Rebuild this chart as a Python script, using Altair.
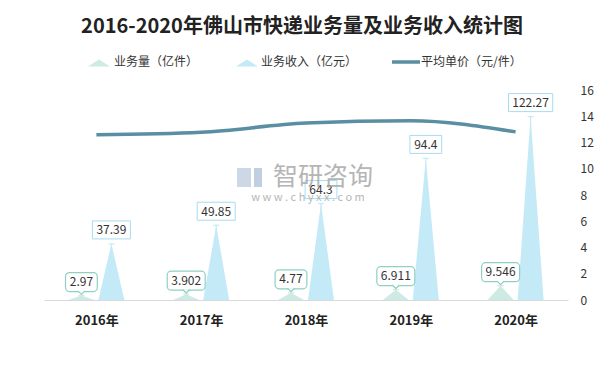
import altair as alt
import pandas as pd

# ---------------- data ----------------
title_text = "2016-2020年佛山市快递业务量及业务收入统计图"
years = ["2016年", "2017年", "2018年", "2019年", "2020年"]
volume = [2.97, 3.902, 4.77, 6.911, 9.546]          # 业务量（亿件）
revenue = [37.39, 49.85, 64.3, 94.4, 122.27]        # 业务收入（亿元）
price = [12.59, 12.78, 13.48, 13.66, 12.81]         # 平均单价（元/件）
vol_labels = ["2.97", "3.902", "4.77", "6.911", "9.546"]
rev_labels = ["37.39", "49.85", "64.3", "94.4", "122.27"]
legend_labels = ["业务量（亿件）", "业务收入（亿元）", "平均单价（元/件）"]
right_ticks = [0, 2, 4, 6, 8, 10, 12, 14, 16]
watermark = ["智研咨询", "w w w . c h y x x . c o m"]

# ---------------- style ----------------
W, H = 524, 210
PX = W / 5.0                 # pixels per category
FONT = "Noto Sans CJK SC"
VOL_FILL, REV_FILL = "#cdeae4", "#c4eaf8"
VOL_STEM, REV_STEM = "#5db8a6", "#93d5ec"
VOL_BOX, REV_BOX = "#8fd0c3", "#a8dcee"
LINE_C = "#5a8ea2"
SHIFT = {"vol": -15 / PX, "rev": 15 / PX}
HW = 13 / PX
CAP = 3 / PX

rows = []
for i in range(len(years)):
    rows.append(dict(idx=i, series="vol", value=volume[i], label=vol_labels[i]))
    rows.append(dict(idx=i, series="rev", value=revenue[i], label=rev_labels[i]))
base_df = pd.DataFrame(rows)
tri_df = pd.concat([base_df.assign(k=k) for k in (-1, 0, 1)], ignore_index=True)
line_df = pd.DataFrame({"idx": range(len(years)), "price": price})

xc_expr = f"datum.idx + (datum.series == 'vol' ? {SHIFT['vol']} : {SHIFT['rev']})"
label_expr = "[" + ",".join(f"'{y}'" for y in years) + "][datum.value]"

xscale = alt.Scale(domain=[-0.5, 4.5], nice=False, zero=False)
xaxis = alt.Axis(values=list(range(len(years))), labelExpr=label_expr, ticks=False,
                 grid=False, domainColor="#d9d9d9", labelFont=FONT, labelFontWeight="bold",
                 labelFontSize=13, labelColor="#222222", labelPadding=14, title=None)
yL = alt.Scale(domain=[0, 140], nice=False, zero=True)
yR = alt.Scale(domain=[0, 16], nice=False, zero=True)
series_fill = alt.Scale(domain=["vol", "rev"], range=[VOL_FILL, REV_FILL])
series_stem = alt.Scale(domain=["vol", "rev"], range=[VOL_STEM, REV_STEM])


def X(field):
    return alt.X(field, type="quantitative", scale=xscale, axis=xaxis)


# triangles
tri = alt.Chart(tri_df).transform_calculate(
    xc=xc_expr
).transform_calculate(
    xx=f"datum.xc + datum.k * {HW}",
    yy="datum.k == 0 ? datum.value : 0",
    key="datum.series + datum.idx",
).mark_area(opacity=1).encode(
    x=X("xx"),
    y=alt.Y("yy:Q", scale=yL, axis=None, stack=None),
    color=alt.Color("series:N", scale=series_fill, legend=None),
    detail="key:N",
)

base = alt.Chart(base_df).transform_calculate(xc=xc_expr)

stems = base.mark_rule(strokeWidth=1.2).encode(
    x=X("xc"),
    y=alt.Y("zero:Q", scale=yL, axis=None),
    y2="value:Q",
    color=alt.Color("series:N", scale=series_stem, legend=None),
).transform_calculate(zero="0")

caps = base.transform_calculate(
    xl=f"datum.xc - {CAP}", xr=f"datum.xc + {CAP}"
).mark_rule(strokeWidth=1.2).encode(
    x=X("xl"), x2="xr:Q",
    y=alt.Y("value:Q", scale=yL, axis=None),
    color=alt.Color("series:N", scale=series_stem, legend=None),
)

box_calc = base.transform_calculate(
    bw=f"(6.2 * length(datum.label) + 7) / 2 / {PX}"
).transform_calculate(
    bl="datum.xc - datum.bw", br="datum.xc + datum.bw"
)

rev_boxes = box_calc.transform_filter("datum.series == 'rev'").mark_rect(
    fill="white", stroke=REV_BOX, strokeWidth=1, yOffset=-23, y2Offset=-5
).encode(x=X("bl"), x2="br:Q",
         y=alt.Y("value:Q", scale=yL, axis=None), y2="value:Q")

vol_boxes = box_calc.transform_filter("datum.series == 'vol'").mark_rect(
    fill="white", stroke=VOL_BOX, strokeWidth=1.2, cornerRadius=4, yOffset=-23, y2Offset=-4
).encode(x=X("bl"), x2="br:Q",
         y=alt.Y("value:Q", scale=yL, axis=None), y2="value:Q")

# callout pointer under volume boxes (open path: top edge not stroked)
vol_ptr = base.transform_filter("datum.series == 'vol'").mark_point(
    shape="M-1,0L0,1L1,0", size=49, filled=False, fill="white", fillOpacity=1,
    stroke=VOL_BOX, strokeWidth=1.2, opacity=1, yOffset=-4.6
).encode(x=X("xc"), y=alt.Y("value:Q", scale=yL, axis=None))

labels = base.mark_text(font=FONT, fontSize=12, color="#333333", yOffset=-13.5,
                        baseline="middle", align="center").encode(
    x=X("xc"),
    y=alt.Y("value:Q", scale=yL, axis=None),
    text="label:N",
)

line = alt.Chart(line_df).mark_line(color=LINE_C, strokeWidth=3.5, interpolate="monotone").encode(
    x=X("idx"),
    y=alt.Y("price:Q", scale=yR,
            axis=alt.Axis(orient="right", values=right_ticks, grid=False, ticks=False,
                          domain=False, labelFont=FONT, labelFontSize=12,
                          labelColor="#333333", labelPadding=12, title=None)),
)

# title
one = pd.DataFrame({"t": [title_text]})
title = alt.Chart(one).mark_text(font=FONT, fontSize=20, fontWeight="bold", color="#222222",
                                 align="center", baseline="middle").encode(
    text="t:N", x=alt.value(W / 2 - 4), y=alt.value(-63))

# legend
tri_shape = "M-1,0.32L0,-0.32L1,0.32Z"
leg_icon1 = alt.Chart(one).mark_point(shape=tri_shape, size=480, filled=True, opacity=1,
                                      color=VOL_FILL).encode(x=alt.value(55), y=alt.value(-27))
leg_icon2 = alt.Chart(one).mark_point(shape=tri_shape, size=480, filled=True, opacity=1,
                                      color=REV_FILL).encode(x=alt.value(203), y=alt.value(-27))
leg_icon3 = alt.Chart(one).mark_rule(color=LINE_C, strokeWidth=3.5).encode(
    x=alt.value(348), x2=alt.value(376), y=alt.value(-28))
leg_texts = []
for lab, xp in zip(legend_labels, [70, 217, 377]):
    leg_texts.append(alt.Chart(pd.DataFrame({"t": [lab]})).mark_text(
        font=FONT, fontSize=12, color="#333333", align="left", baseline="middle").encode(
        text="t:N", x=alt.value(xp), y=alt.value(-28)))

# watermark
wm1 = alt.Chart(pd.DataFrame({"t": [watermark[0]]})).mark_text(
    font=FONT, fontSize=25, color="#a9a9a9", opacity=0.85, align="center", baseline="middle").encode(
    text="t:N", x=alt.value(279), y=alt.value(87))
wm2 = alt.Chart(pd.DataFrame({"t": [watermark[1]]})).mark_text(
    font=FONT, fontSize=11, color="#ababab", opacity=0.85, align="center", baseline="middle").encode(
    text="t:N", x=alt.value(264), y=alt.value(108))
logo1 = alt.Chart(one).mark_rect(color="#c4d1e3", opacity=0.85).encode(
    x=alt.value(193), x2=alt.value(207), y=alt.value(78), y2=alt.value(97))
logo2 = alt.Chart(one).mark_rect(color="#b6c7de", opacity=0.85).encode(
    x=alt.value(210), x2=alt.value(218), y=alt.value(78), y2=alt.value(97))

chart = alt.layer(
    tri, stems, caps, rev_boxes, vol_boxes, vol_ptr, labels, line,
    title, leg_icon1, leg_icon2, leg_icon3, *leg_texts,
    logo1, logo2, wm1, wm2,
).resolve_scale(y="independent").properties(
    width=W, height=H,
    padding={"left": 36, "top": 82, "right": 36, "bottom": 62},
    autosize=alt.AutoSizeParams(type="none"),
    background="white",
).configure_view(stroke=None)

chart.save("out.html", embed_options={"renderer": "svg", "actions": False})
